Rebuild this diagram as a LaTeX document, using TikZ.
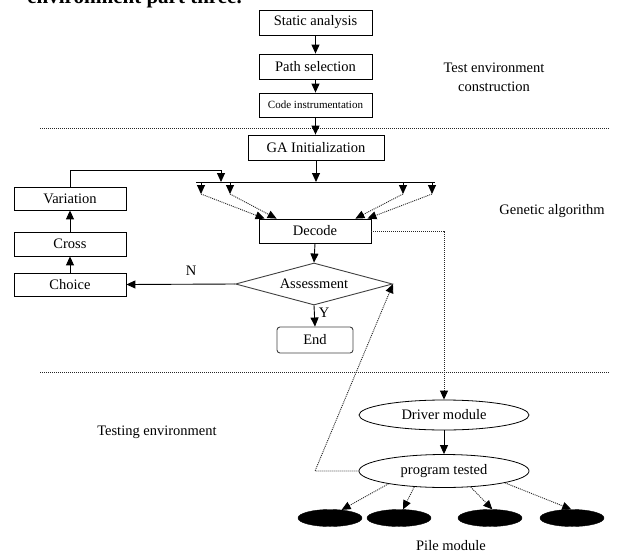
\documentclass[tikz,border=0pt]{standalone}
\usepackage{fontspec}
\setmainfont{Liberation Serif}
\usetikzlibrary{arrows.meta,shapes.geometric}
\begin{document}
\begin{tikzpicture}[x=1pt,y=-1pt,
  every node/.style={font=\fontsize{14.5}{16}\selectfont},
  box/.style={draw, line width=0.8pt, inner sep=0pt, minimum width=112pt, minimum height=24pt},
  tip/.style={-{Triangle[length=9pt,width=8pt,color=black]}},
  arr/.style={line width=0.9pt, tip},
  dotl/.style={line width=0.9pt, dash pattern=on 1pt off 1pt, draw=black!85},
  darr/.style={dotl, tip},
  sepline/.style={line width=0.8pt, dash pattern=on 1pt off 1pt, draw=black!85},
  lbl/.style={align=center, inner sep=0pt}
]
\useasboundingbox (0,0) rectangle (619,555);

% clipped heading
\node[font=\bfseries\fontsize{21}{24}\selectfont, anchor=base east, inner sep=0pt] (hdr) at (242,3) {environment part three.};

% test environment construction
\node[box, minimum width=113pt, minimum height=25pt] (sa) at (315.5,22.5) {Static analysis};
\node[box, minimum width=113pt, minimum height=25pt] (ps) at (315.5,66.5) {Path selection};
\node[box, minimum width=113pt, font=\fontsize{11}{12}\selectfont] (ci) at (315.5,105) {Code instrumentation};
\draw[arr] (sa.south) -- (ps.north);
\draw[arr] (ps.south) -- (ci.north);
\node[lbl] (tec) at (494,77) {Test environment\\[3pt]construction};

\draw[sepline] (40,128) coordinate (s1a) -- (610,128) coordinate (s1b);

% genetic algorithm
\node[box, minimum width=136pt, minimum height=25pt] (ga) at (316,147.5) {GA Initialization};
\draw[arr] (ci.south) -- (ci.south |- ga.north);
\coordinate (barL) at (196,182);
\coordinate (barR) at (435,182);
\draw[line width=0.9pt] (barL) -- (barR);
\coordinate (b1) at (201,182); \coordinate (t1) at (201,194);
\coordinate (b2) at (230,182); \coordinate (t2) at (230,194);
\coordinate (b3) at (403,182); \coordinate (t3) at (403,194);
\coordinate (b4) at (432,182); \coordinate (t4) at (432,194);
\draw[arr] (b1) -- (t1);
\draw[arr] (b2) -- (t2);
\draw[arr] (b3) -- (t3);
\draw[arr] (b4) -- (t4);
\draw[arr] (ga.south) -- (ga.south |- barL);

\node[box] (dec) at (315,231) {Decode};
\draw[darr] (t1) -- ([xshift=6pt]dec.north west);
\draw[darr] (t2) -- ([xshift=18pt]dec.north west);
\draw[darr] (t3) -- ([xshift=-16pt]dec.north east);
\draw[darr] (t4) -- ([xshift=-4pt]dec.north east);

\node[diamond, draw=black!75, line width=0.9pt, inner sep=0pt, aspect=3.7,
      minimum width=157pt, minimum height=42pt] (as) at (314,284) {Assessment};
\draw[arr] (dec.south) -- (as.north);

\node[draw=black!75, line width=0.9pt, rounded corners=3pt, inner sep=0pt,
      minimum width=76pt, minimum height=26pt] (end) at (315,340) {End};
\draw[arr] (as.south) -- (end.north);
\node[inner sep=0pt] (ylbl) at (324,313) {Y};

\node[box, minimum height=23pt] (ch) at (70,284.5) {Choice};
\node[box] (cr) at (70,244) {Cross};
\node[box, minimum height=23pt] (var) at (70,198.5) {Variation};
\draw[arr] (as.west) -- (ch.east);
\node[inner sep=0pt] (nlbl) at (191,271) {N};
\draw[arr] (ch.north) -- (cr.south);
\draw[arr] (cr.north) -- (var.south);
\coordinate (fb) at (221,182);
\draw[arr] (var.north) |- ([yshift=12pt]fb) -- (fb);

\node[lbl] (gal) at (552,211) {Genetic algorithm};

\draw[sepline] (40,372) coordinate (s2a) -- (610,372) coordinate (s2b);

% testing environment
\node[draw, ellipse, line width=0.8pt, inner sep=0pt, minimum width=170pt, minimum height=30pt] (drv) at (444,415) {Driver module};
\node[draw, ellipse, line width=0.8pt, inner sep=0pt, minimum width=170pt, minimum height=33pt] (pt) at (444,471) {program tested};
\draw[darr] (dec.east) -| (drv.north);
\draw[arr] (drv.south) -- (pt.north);
\coordinate (pk) at (315,471);
\draw[darr] (pt.west) -- (pk) -- (as.east);

\node[lbl] (tel) at (157,432) {Testing environment};

\foreach \i/\xx in {1/330,2/399,3/490,4/572}{
  \node[ellipse, fill=black, draw=black, inner sep=0pt, minimum width=64pt, minimum height=17pt] (e\i) at (\xx,518) {};
}
\draw[darr] (pt.-167) -- (e1.35);
\draw[darr] (pt.-152) -- (e2.65);
\draw[darr] (pt.-31) -- (e3.75);
\draw[darr] (pt.-11) -- (e4.95);

\node[lbl] (pml) at (451,546) {Pile module};
\end{tikzpicture}
\end{document}
